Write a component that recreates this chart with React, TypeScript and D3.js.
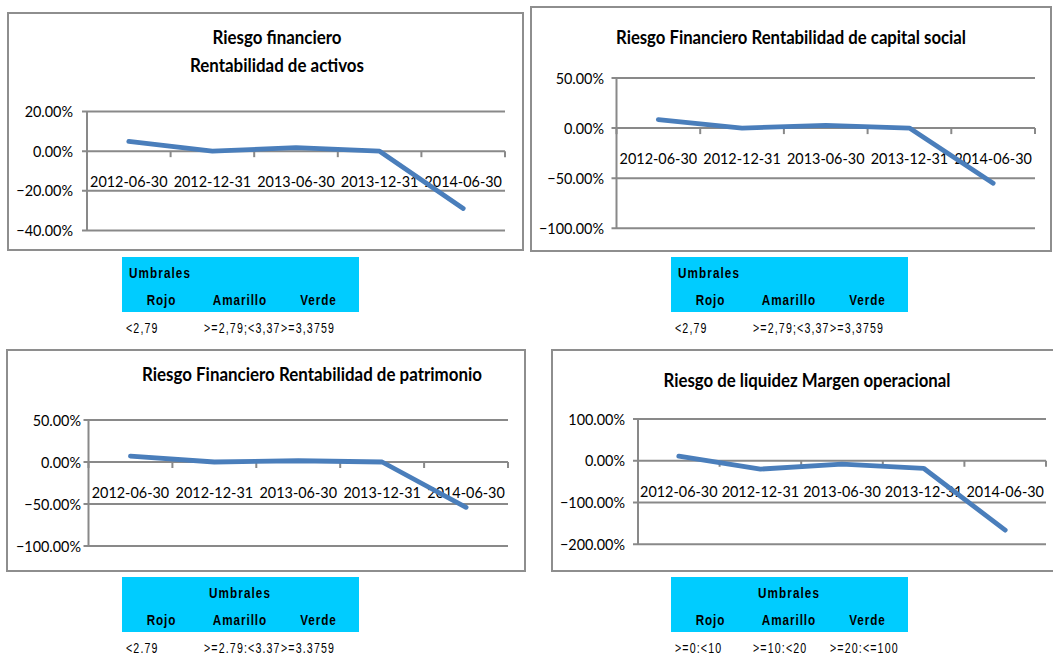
import React from "react";
import * as d3 from "d3";

// ---------- data ----------
const categories = ["2012-06-30", "2012-12-31", "2013-06-30", "2013-12-31", "2014-06-30"];

const rentabilidadActivos = [4.9, 0, 1.8, 0, -28.9];
const rentabilidadCapitalSocial = [8.5, 0, 2.7, 0, -55];
const rentabilidadPatrimonio = [7, 0, 1.5, 0, -54];
const margenOperacional = [11, -20, -8, -18, -166];

const ticksActivos = [20, 0, -20, -40];
const ticksCapital = [50, 0, -50, -100];
const ticksPatrimonio = [50, 0, -50, -100];
const ticksMargen = [100, 0, -100, -200];

const titleActivos = ["Riesgo financiero", "Rentabilidad de activos"];
const titleCapital = ["Riesgo Financiero Rentabilidad de capital social"];
const titlePatrimonio = ["Riesgo Financiero Rentabilidad de patrimonio"];
const titleMargen = ["Riesgo de liquidez Margen operacional"];

const umbralesTitle = "Umbrales";
const umbralesHeader = ["Rojo", "Amarillo", "Verde"];
const umbralesActivos = ["<2,79", ">=2,79;<3,3759", ">=3,3759"];
const umbralesCapital = ["<2,79", ">=2,79;<3,3759", ">=3,3759"];
const umbralesPatrimonio = ["<2.79", ">=2.79;<3.3759", ">=3.3759"];
const umbralesMargen = [">=0;<10", ">=10;<20", ">=20;<=100"];

// ---------- styles ----------
const AXIS_FONT = "Lato, 'Open Sans', sans-serif";
const TABLE_FONT = "'Liberation Sans', Arial, sans-serif";
const GRID = "#898989";
const BORDER = "#8e8e8e";
const SERIES = "#4A7EBB";
const CYAN = "#00CCFF";
const fmt = (v: number) => d3.format(".2f")(v) + "%";

type PanelProps = {
  border: [number, number, number, number];
  plot: { left: number; right: number; top: number; bottom: number };
  values: number[];
  ticks: number[];
  title: string[];
  titleX: number;
  titleY: number[];
  titleW: number[];
  labelRight: number;
};

function Panel(p: PanelProps) {
  const { border, plot, values, ticks, title } = p;
  const x = d3.scaleBand<string>().domain(categories).range([plot.left, plot.right]);
  const y = d3
    .scaleLinear()
    .domain([d3.min(ticks)!, d3.max(ticks)!])
    .range([plot.bottom, plot.top]);
  const bw = x.bandwidth();
  const y0 = y(0);
  const line = d3
    .line<number>()
    .x((_, i) => x(categories[i])! + bw / 2)
    .y((d) => y(d));
  const tickXs = categories.map((c) => x(c)!).concat([plot.right]);
  return (
    <g>
      <rect
        x={border[0]}
        y={border[1]}
        width={border[2] - border[0]}
        height={border[3] - border[1]}
        fill="#fff"
        stroke={BORDER}
        strokeWidth={2}
      />
      {title.map((t, i) => (
        <text
          key={i}
          x={p.titleX}
          y={p.titleY[i]}
          textAnchor="middle"
          fontFamily={AXIS_FONT}
          fontWeight="bold"
          fontSize={18}
          textLength={p.titleW[i]}
          lengthAdjust="spacingAndGlyphs"
          fill="#000"
        >
          {t}
        </text>
      ))}
      {ticks.map((t) => (
        <line
          key={"g" + t}
          x1={plot.left - 5}
          x2={plot.right}
          y1={y(t)}
          y2={y(t)}
          stroke={GRID}
          strokeWidth={2}
        />
      ))}
      <line
        x1={plot.left}
        x2={plot.left}
        y1={y(d3.max(ticks)!)}
        y2={y(d3.min(ticks)!)}
        stroke={GRID}
        strokeWidth={2}
      />
      {tickXs.map((tx, i) => (
        <line key={"t" + i} x1={tx} x2={tx} y1={y0} y2={y0 + 6} stroke={GRID} strokeWidth={2} />
      ))}
      {ticks.map((t) => (
        <text
          key={"yl" + t}
          transform={`translate(${p.labelRight},${y(t) + 5.5}) scale(0.9,1)`}
          textAnchor="end"
          fontFamily={AXIS_FONT}
          fontSize={16}
          fill="#000"
        >
          {fmt(t)}
        </text>
      ))}
      {categories.map((c) => (
        <text
          key={"xl" + c}
          transform={`translate(${x(c)! + bw / 2},${y0 + 36}) scale(0.9,1)`}
          textAnchor="middle"
          fontFamily={AXIS_FONT}
          fontSize={16}
          fill="#000"
        >
          {c}
        </text>
      ))}
      <path
        d={line(values)!}
        fill="none"
        stroke={SERIES}
        strokeWidth={4.8}
        strokeLinecap="round"
        strokeLinejoin="round"
      />
    </g>
  );
}

type TableProps = {
  id: string;
  left: number;
  top: number;
  centeredTitle: boolean;
  values: string[];
};

function NarrowText(props: {
  x: number;
  y: number;
  anchor?: "start" | "middle" | "end";
  bold?: boolean;
  size: number;
  sx: number;
  spacing: number;
  children: React.ReactNode;
}) {
  return (
    <text
      transform={`translate(${props.x},${props.y}) scale(${props.sx},1)`}
      textAnchor={props.anchor ?? "start"}
      fontWeight={props.bold ? "bold" : "normal"}
      fontSize={props.size}
      letterSpacing={props.spacing}
      fill="#000"
    >
      {props.children}
    </text>
  );
}

function Umbrales(t: TableProps) {
  const L = t.left;
  const T = t.top;
  const headerCenters = [L + 39.5, L + 118, L + 196.5];
  const valueLefts = [L + 4, L + 82, L + 159];
  return (
    <g fontFamily={TABLE_FONT}>
      <defs>
        <clipPath id={t.id}>
          <rect x={L + 78} y={T + 56} width={159 - 78} height={60} />
        </clipPath>
      </defs>
      <rect x={L} y={T} width={237} height={55} fill={CYAN} />
      <NarrowText
        x={t.centeredTitle ? L + 118 : L + 7}
        y={T + 20.5}
        anchor={t.centeredTitle ? "middle" : "start"}
        bold
        size={15}
        sx={0.78}
        spacing={1.4}
      >
        {umbralesTitle}
      </NarrowText>
      {umbralesHeader.map((h, i) => (
        <NarrowText key={h} x={headerCenters[i]} y={T + 47.5} anchor="middle" bold size={15} sx={0.78} spacing={1.2}>
          {h}
        </NarrowText>
      ))}
      {t.values.map((v, i) =>
        i === 1 ? (
          <g key={i} clipPath={`url(#${t.id})`}>
            <NarrowText x={valueLefts[i]} y={T + 76} size={14} sx={0.76} spacing={1.5}>
              {v}
            </NarrowText>
          </g>
        ) : (
          <NarrowText key={i} x={valueLefts[i]} y={T + 76} size={14} sx={0.76} spacing={1.5}>
            {v}
          </NarrowText>
        )
      )}
    </g>
  );
}

export default function App() {
  return (
    <div style={{ position: "absolute", left: 0, top: 0 }}>
      <svg width={1053} height={653} style={{ display: "block", background: "#fff" }}>
        <Panel
          border={[8, 13, 523, 250]}
          plot={{ left: 87, right: 505, top: 111.5, bottom: 230.5 }}
          values={rentabilidadActivos}
          ticks={ticksActivos}
          title={titleActivos}
          titleX={277}
          titleY={[44, 71.7]}
          titleW={[129, 174]}
          labelRight={73}
        />
        <Panel
          border={[531, 7, 1051, 251]}
          plot={{ left: 616.5, right: 1035, top: 78, bottom: 228.3 }}
          values={rentabilidadCapitalSocial}
          ticks={ticksCapital}
          title={titleCapital}
          titleX={791}
          titleY={[44]}
          titleW={[350]}
          labelRight={604}
        />
        <Panel
          border={[7, 350, 525, 571]}
          plot={{ left: 88.5, right: 508, top: 420, bottom: 546 }}
          values={rentabilidadPatrimonio}
          ticks={ticksPatrimonio}
          title={titlePatrimonio}
          titleX={312}
          titleY={[380.6]}
          titleW={[340]}
          labelRight={81}
        />
        <Panel
          border={[552, 350, 1062, 571]}
          plot={{ left: 638, right: 1046, top: 419, bottom: 544.3 }}
          values={margenOperacional}
          ticks={ticksMargen}
          title={titleMargen}
          titleX={807}
          titleY={[386.7]}
          titleW={[287]}
          labelRight={625}
        />
        <Umbrales id="c1" left={122} top={257} centeredTitle={false} values={umbralesActivos} />
        <Umbrales id="c2" left={671} top={257} centeredTitle={false} values={umbralesCapital} />
        <Umbrales id="c3" left={122} top={577} centeredTitle={true} values={umbralesPatrimonio} />
        <Umbrales id="c4" left={671} top={577} centeredTitle={true} values={umbralesMargen} />
      </svg>
    </div>
  );
}
